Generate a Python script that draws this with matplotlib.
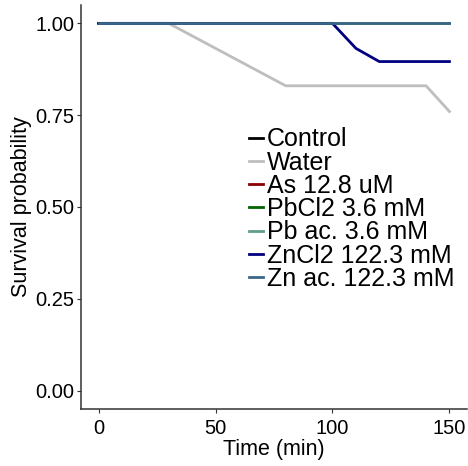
import matplotlib
matplotlib.use("Agg")
import matplotlib.pyplot as plt

plt.rcParams['font.family'] = ['Liberation Sans', 'DejaVu Sans']

labels = ['Control', 'Water', 'As 12.8 uM', 'PbCl2 3.6 mM', 'Pb ac. 3.6 mM',
          'ZnCl2 122.3 mM', 'Zn ac. 122.3 mM']
colors = ['#000000', '#bebebe', '#8b0000', '#006400', '#5f9e8c', '#000080', '#3b6786']

t_control = [0, 150]
s_control = [1.0, 1.0]
t_water = [0, 30, 80, 140, 150]
s_water = [1.0, 1.0, 0.83, 0.83, 0.76]
t_as = [0, 150]
s_as = [1.0, 1.0]
t_pbcl2 = [0, 150]
s_pbcl2 = [1.0, 1.0]
t_pbac = [0, 150]
s_pbac = [1.0, 1.0]
t_zncl2 = [0, 100, 110, 120, 150]
s_zncl2 = [1.0, 1.0, 0.932, 0.896, 0.896]
t_znac = [0, 150]
s_znac = [1.0, 1.0]

times = [t_control, t_water, t_as, t_pbcl2, t_pbac, t_zncl2, t_znac]
surv = [s_control, s_water, s_as, s_pbcl2, s_pbac, s_zncl2, s_znac]

fig = plt.figure(figsize=(4.68, 4.66), dpi=100)
ax = fig.add_axes([81/468, 57/466, 386/468, 404/466])

for t, s, c, l in zip(times, surv, colors, labels):
    ax.plot(t, s, color=c, lw=2, label=l)

ax.set_xlim(-7.5, 157.5)
ax.set_ylim(-0.05, 1.05)
ax.set_xticks([0, 50, 100, 150])
ax.set_yticks([0, 0.25, 0.5, 0.75, 1.0])
ax.set_yticklabels(['0.00', '0.25', '0.50', '0.75', '1.00'])
for side in ['top', 'right']:
    ax.spines[side].set_visible(False)
for side in ['left', 'bottom']:
    ax.spines[side].set_color('#333333')
    ax.spines[side].set_linewidth(1.1)
ax.tick_params(labelsize=14.5, length=3, color='#333333', labelcolor='black', pad=2)
ax.tick_params(axis='x', pad=4)
ax.set_xlabel('Time (min)', fontsize=15.5, labelpad=1)
ax.set_ylabel('Survival probability', fontsize=15.5, labelpad=2)

leg = ax.legend(loc='upper left', bbox_to_anchor=(0.435, 0.697), frameon=False,
                fontsize=18, handlelength=0.56, handletextpad=0.15,
                labelspacing=-0.03, borderpad=0, borderaxespad=0)

fig.savefig('out.png', dpi=100)
